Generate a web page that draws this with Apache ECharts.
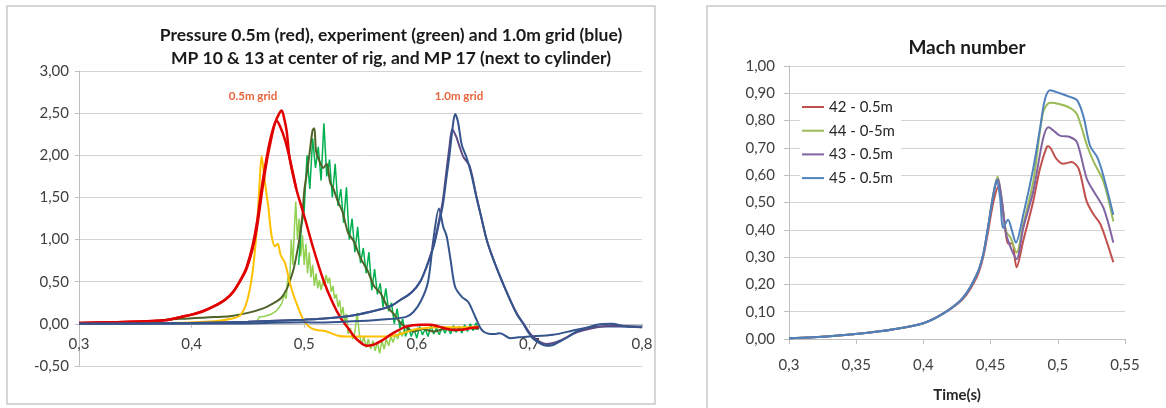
<!DOCTYPE html>
<html>
<head>
<meta charset="utf-8">
<title>Pressure / Mach number</title>
<script src="https://cdn.jsdelivr.net/npm/echarts@6/dist/echarts.min.js"></script>
<style>
  html, body { margin: 0; padding: 0; background: #fff; }
  #chart { width: 1166px; height: 408px; }
</style>
</head>
<body>
<div id="chart"></div>
<script>
  // ---- left panel: pressure [time, value] ----
  const pressRedA = [[0.30,0.01],[0.33,0.02],[0.36,0.03],[0.38,0.05],[0.39,0.08],[0.40,0.11],[0.41,0.15],[0.42,0.21],
    [0.43,0.29],[0.437,0.38],[0.445,0.55],[0.449,0.66],[0.454,0.88],[0.458,1.14],[0.463,1.61],[0.467,1.95],[0.47,2.15],
    [0.474,2.38],[0.478,2.5],[0.480,2.53],[0.4825,2.42],[0.4845,2.28],[0.487,1.97],[0.493,1.6],[0.5,1.28],[0.508,0.9],
    [0.517,0.52],[0.525,0.26],[0.532,0.08],[0.54,-0.07],[0.545,-0.16],[0.55,-0.22],[0.555,-0.26],[0.561,-0.25],
    [0.57,-0.19],[0.579,-0.11],[0.591,-0.03],[0.603,-0.01],[0.612,-0.01],[0.619,-0.03],[0.632,-0.07],[0.64,-0.07],
    [0.648,-0.05],[0.655,-0.04]];
  const pressRedB = [[0.30,0.01],[0.33,0.02],[0.36,0.03],[0.38,0.05],[0.39,0.08],[0.40,0.11],[0.41,0.15],[0.42,0.21],
    [0.43,0.29],[0.437,0.38],[0.445,0.56],[0.449,0.68],[0.454,0.92],[0.458,1.2],[0.463,1.68],[0.468,2.07],[0.472,2.3],
    [0.4755,2.41],[0.479,2.33],[0.483,2.18],[0.487,1.97],[0.493,1.6]];
  const pressYellow = [[0.30,0.0],[0.38,0.01],[0.42,0.03],[0.435,0.06],[0.443,0.1],[0.449,0.26],[0.454,0.6],[0.458,1.14],
    [0.4605,1.7],[0.4622,1.99],[0.465,1.69],[0.468,1.4],[0.471,1.05],[0.474,0.92],[0.4765,0.95],[0.479,0.82],[0.483,0.72],
    [0.487,0.5],[0.49,0.36],[0.495,0.18],[0.5,0.03],[0.505,-0.04],[0.51,-0.07],[0.515,-0.08],[0.52,-0.09],[0.53,-0.14],
    [0.54,-0.15],[0.56,-0.15],[0.58,-0.14],[0.59,-0.1],[0.6,-0.06],[0.62,-0.04],[0.64,-0.04],[0.655,-0.03]];
  const pressExpLight = [[0.30,0.0],[0.40,0.01],[0.455,0.02],[0.458,0.03],[0.46,0.08],[0.465,0.09],[0.47,0.11],[0.475,0.15],
    [0.478,0.2],[0.48,0.24],[0.4825,0.35],[0.484,0.3],[0.4855,0.55],[0.487,0.45],[0.4885,1.0],[0.49,0.7],[0.4915,1.2],
    [0.4925,1.45],[0.494,1.0],[0.4955,1.25],[0.497,0.8],[0.4985,1.05],[0.5,0.7],[0.5015,0.95],[0.503,0.6],[0.5045,0.85],
    [0.506,0.55],[0.5075,0.7],[0.509,0.45],[0.5105,0.6],[0.512,0.42],[0.5135,0.52],[0.515,0.4],[0.5165,0.5],[0.518,0.45],
    [0.5195,0.58],[0.521,0.48],[0.5225,0.55],[0.524,0.38],[0.5255,0.45],[0.527,0.3],[0.5285,0.35],[0.53,0.2],[0.5315,0.28],
    [0.533,0.1],[0.5345,0.2],[0.536,0.0],[0.5375,0.12],[0.539,-0.12],[0.541,-0.05],[0.543,-0.18],[0.545,-0.1],[0.547,0.13],
    [0.549,-0.12],[0.551,-0.25],[0.553,-0.15],[0.555,-0.28],[0.557,-0.18],[0.559,-0.3],[0.561,-0.2],[0.563,-0.32],
    [0.565,-0.22],[0.567,-0.35],[0.569,-0.2],[0.571,-0.3],[0.573,-0.18],[0.575,-0.26],[0.577,-0.15],[0.579,-0.22],
    [0.581,-0.12],[0.583,-0.18],[0.585,-0.08],[0.587,-0.15],[0.589,-0.06],[0.591,-0.12],[0.593,-0.05],[0.595,-0.1]];
  const pressExpDark = [[0.495,0.7],[0.4975,1.15],[0.5,1.35],[0.5025,2.0],[0.505,1.6],[0.5075,2.2],[0.51,1.85],[0.5125,2.1],
    [0.515,1.7],[0.5175,2.38],[0.52,1.75],[0.5225,1.95],[0.525,1.5],[0.5275,1.9],[0.53,1.4],[0.5325,1.6],[0.535,1.2],
    [0.5375,1.62],[0.54,1.0],[0.5425,1.25],[0.545,0.85],[0.5475,1.15],[0.55,0.72],[0.5525,0.9],[0.555,0.6],[0.5575,0.85],
    [0.56,0.4],[0.5625,0.65],[0.565,0.35],[0.5675,0.48],[0.57,0.2],[0.5725,0.42],[0.575,0.15],[0.5775,0.25],[0.58,0.0],
    [0.5825,0.18],[0.585,-0.05],[0.5875,0.06],[0.59,-0.15],[0.5925,-0.02],[0.595,-0.15],[0.5975,-0.06],[0.6,-0.17],
    [0.6025,-0.03],[0.605,-0.13],[0.6075,-0.06],[0.61,-0.15],[0.6125,-0.02],[0.615,-0.12],[0.6175,-0.05],[0.62,-0.13],
    [0.6225,-0.03],[0.625,-0.11],[0.6275,-0.04],[0.63,-0.12],[0.6325,-0.02],[0.635,-0.1],[0.6375,-0.03],[0.64,-0.11],
    [0.6425,-0.01],[0.645,-0.09],[0.6475,0.0],[0.65,-0.08],[0.6525,0.01],[0.655,-0.06]];
  const pressExpMean = [[0.30,0.0],[0.35,0.02],[0.39,0.06],[0.42,0.08],[0.434,0.09],[0.45,0.13],[0.463,0.18],[0.472,0.24],
    [0.479,0.3],[0.484,0.4],[0.487,0.5],[0.49,0.62],[0.493,0.8],[0.496,1.03],[0.4985,1.3],[0.5,1.57],[0.503,1.85],
    [0.505,2.05],[0.5075,2.3],[0.509,2.32],[0.5105,2.05],[0.513,1.95],[0.517,1.85],[0.52,1.9],[0.523,1.68],[0.526,1.6],
    [0.53,1.45],[0.534,1.33],[0.539,1.08],[0.544,0.98],[0.55,0.78],[0.556,0.64],[0.562,0.45],[0.568,0.36],[0.574,0.2],
    [0.58,0.11],[0.585,0.02],[0.59,-0.04],[0.597,-0.09],[0.605,-0.06],[0.615,-0.09],[0.625,-0.06],[0.635,-0.08],
    [0.645,-0.05],[0.655,-0.06]];
  const pressBlueWide = [[0.30,0.0],[0.40,0.01],[0.45,0.025],[0.5,0.05],[0.514,0.06],[0.543,0.1],[0.567,0.17],[0.578,0.22],
    [0.585,0.28],[0.595,0.37],[0.603,0.5],[0.61,0.72],[0.615,0.92],[0.619,1.15],[0.623,1.4],[0.626,1.7],[0.629,2.0],
    [0.632,2.35],[0.634,2.49],[0.6365,2.4],[0.64,2.12],[0.644,1.98],[0.648,1.8],[0.653,1.5],[0.657,1.28],
    [0.662,1.0],[0.667,0.8],[0.674,0.56],[0.683,0.28],[0.689,0.11],[0.695,-0.01],[0.699,-0.1],
    [0.703,-0.17],[0.709,-0.23],[0.715,-0.26],[0.721,-0.25],[0.727,-0.21],[0.735,-0.15],[0.742,-0.09],[0.75,-0.05],
    [0.76,-0.01],[0.773,0.0],[0.787,-0.03],[0.8,-0.03]];
  const pressPurple = [[0.30,0.0],[0.40,0.01],[0.45,0.025],[0.5,0.05],[0.514,0.06],[0.543,0.1],[0.567,0.17],[0.578,0.22],
    [0.585,0.28],[0.595,0.37],[0.603,0.5],[0.61,0.73],[0.615,0.94],[0.619,1.18],[0.623,1.45],[0.626,1.78],[0.629,2.1],
    [0.6315,2.31],[0.635,2.22],[0.638,2.1],[0.6414,1.98],[0.647,1.87],[0.653,1.51],[0.657,1.28],
    [0.662,1.0],[0.667,0.8],[0.674,0.56],[0.683,0.28],[0.689,0.12],[0.695,0.0],[0.703,-0.15],
    [0.715,-0.24],[0.727,-0.2],[0.742,-0.1],[0.76,-0.04],[0.775,-0.02],[0.8,-0.04]];
  const pressBlueNarrow = [[0.30,0.0],[0.45,0.005],[0.5,0.02],[0.514,0.015],[0.543,0.03],[0.567,0.05],[0.59,0.08],
    [0.597,0.14],[0.604,0.28],[0.61,0.5],[0.6147,1.0],[0.6197,1.37],[0.6235,1.15],[0.6265,1.04],[0.63,0.76],[0.634,0.44],
    [0.64,0.32],[0.6457,0.26],[0.6517,0.09],[0.6576,-0.07],[0.665,-0.12],
    [0.67,-0.12],[0.674,-0.11],[0.683,-0.17],[0.69,-0.16],[0.7,-0.15],[0.721,-0.13],[0.742,-0.07],[0.76,-0.03],
    [0.78,-0.03],[0.8,-0.04]];

  // ---- right panel: Mach number [time, value] ----
  const machNames = ['42 - 0.5m', '44 - 0-5m', '43 - 0.5m', '45 - 0.5m'];
  const mach42 = [[0.30,0.003],[0.33,0.01],[0.3675,0.028],[0.40,0.058],[0.417,0.1],[0.43,0.15],[0.44,0.23],[0.4445,0.3],
    [0.448,0.39],[0.452,0.5],[0.456,0.56],[0.4585,0.5],[0.461,0.4],[0.463,0.35],[0.466,0.35],[0.4693,0.263],[0.4743,0.36],
    [0.4817,0.504],[0.4867,0.624],[0.4917,0.703],[0.493,0.706],[0.499,0.66],[0.504,0.642],[0.5103,0.648],[0.5155,0.624],
    [0.5215,0.504],[0.5268,0.455],[0.5318,0.42],[0.5413,0.281]];
  const mach44 = [[0.30,0.003],[0.33,0.01],[0.3675,0.028],[0.40,0.058],[0.417,0.1],[0.43,0.154],[0.44,0.239],[0.4445,0.31],
    [0.448,0.407],[0.452,0.53],[0.4552,0.594],[0.458,0.52],[0.4615,0.395],[0.465,0.37],[0.4693,0.317],[0.4743,0.42],
    [0.4817,0.576],[0.489,0.829],[0.4942,0.865],[0.5016,0.86],[0.509,0.847],[0.5143,0.823],[0.5218,0.708],[0.5268,0.648],
    [0.534,0.576],[0.5413,0.431]];
  const mach43 = [[0.30,0.003],[0.33,0.01],[0.3675,0.028],[0.40,0.058],[0.417,0.1],[0.43,0.154],[0.44,0.239],[0.4445,0.31],
    [0.448,0.407],[0.452,0.527],[0.4555,0.585],[0.4585,0.5],[0.461,0.4],[0.463,0.36],[0.4693,0.293],[0.4743,0.407],
    [0.4817,0.54],[0.489,0.733],[0.493,0.776],[0.5016,0.745],[0.509,0.74],[0.5143,0.72],[0.5215,0.588],[0.5268,0.54],
    [0.534,0.48],[0.5413,0.353]];
  const mach45 = [[0.30,0.003],[0.33,0.01],[0.3675,0.028],[0.40,0.058],[0.417,0.1],[0.43,0.154],[0.44,0.239],[0.4445,0.31],
    [0.448,0.407],[0.452,0.527],[0.4545,0.582],[0.457,0.52],[0.4594,0.407],[0.463,0.437],[0.4657,0.4],[0.4688,0.353],
    [0.4743,0.455],[0.4817,0.624],[0.4867,0.769],[0.4904,0.877],[0.4942,0.911],[0.5016,0.9],[0.509,0.887],[0.5143,0.875],
    [0.519,0.817],[0.524,0.708],[0.5293,0.666],[0.5338,0.6],[0.5413,0.455]];

  const FONT = 'Lato';
  const comma = (v, d) => v.toFixed(d).replace('.', ',');

  const chart = echarts.init(document.getElementById('chart'));

  function line(name, data, color, width, smooth, xi) {
    return {
      name: name, type: 'line', data: data,
      xAxisIndex: xi, yAxisIndex: xi,
      showSymbol: false, smooth: smooth, animation: false,
      lineStyle: { color: color, width: width },
      itemStyle: { color: color }
    };
  }

  const axisText = { fontFamily: FONT, fontSize: 15, color: '#404040' };

  chart.setOption({
    backgroundColor: '#fff',
    textStyle: { fontFamily: FONT },
    title: [
      {
        text: 'Pressure 0.5m (red), experiment (green) and 1.0m grid (blue)\nMP 10 & 13 at center of rig, and MP 17 (next to cylinder)',
        left: 386, top: 19, textAlign: 'center',
        textStyle: { fontFamily: FONT, fontSize: 17.5, fontWeight: 'bold', color: '#1a1a1a', lineHeight: 23 }
      },
      {
        text: 'Mach number', left: 962, top: 33, textAlign: 'center',
        textStyle: { fontFamily: FONT, fontSize: 19, fontWeight: 'bold', color: '#1a1a1a' }
      }
    ],
    legend: {
      data: machNames, orient: 'vertical', left: 800, top: 97,
      icon: 'rect', itemWidth: 22, itemHeight: 2, itemGap: 7.7,
      backgroundColor: '#fff', padding: [2, 6, 2, 2],
      textStyle: { fontFamily: FONT, fontSize: 15, color: '#262626', lineHeight: 16 }
    },
    grid: [
      { left: 79, right: 524, top: 71, bottom: 42 },
      { left: 789, right: 41, top: 66, bottom: 65.3 }
    ],
    xAxis: [
      {
        // axis sits on the zero line (0 is 42px above the bottom of the plot)
        gridIndex: 0, type: 'value', min: 0.3, max: 0.8, interval: 0.1,
        offset: -42.2,
        axisLine: { onZero: false, lineStyle: { color: '#bfbfbf' } },
        axisTick: { length: 4, lineStyle: { color: '#bfbfbf' } },
        axisLabel: Object.assign({ margin: 13, formatter: v => comma(v, 1) }, axisText),
        splitLine: { show: false }
      },
      {
        gridIndex: 1, type: 'value', min: 0.3, max: 0.55, interval: 0.05,
        axisLine: { lineStyle: { color: '#bfbfbf' } },
        axisTick: { length: 5, lineStyle: { color: '#bfbfbf' } },
        axisLabel: Object.assign({ margin: 19, formatter: v => String(parseFloat(v.toFixed(2))).replace('.', ',') }, axisText),
        splitLine: { show: false },
        name: 'Time(s)', nameLocation: 'middle', nameGap: 49,
        nameTextStyle: { fontFamily: FONT, fontSize: 15, fontWeight: 'bold', color: '#262626' }
      }
    ],
    yAxis: [
      {
        gridIndex: 0, type: 'value', min: -0.5, max: 3, interval: 0.5,
        axisLine: { show: true, lineStyle: { color: '#bfbfbf' } },
        axisTick: { show: true, length: 4, lineStyle: { color: '#bfbfbf' } },
        axisLabel: Object.assign({ margin: 10, formatter: v => comma(v, 2) }, axisText),
        splitLine: { lineStyle: { color: '#d4d4d4' } }
      },
      {
        gridIndex: 1, type: 'value', min: 0, max: 1, interval: 0.1,
        axisLine: { show: true, lineStyle: { color: '#bfbfbf' } },
        axisTick: { show: true, length: 5, lineStyle: { color: '#bfbfbf' } },
        axisLabel: Object.assign({ margin: 14, formatter: v => comma(v, 2) }, axisText),
        splitLine: { lineStyle: { color: '#d4d4d4' } }
      }
    ],
    graphic: [
      // panel frames
      { type: 'rect', shape: { x: 7, y: 6, width: 648, height: 398 }, style: { fill: 'none', stroke: '#c8c8c8', lineWidth: 1.5 }, z: 0 },
      { type: 'rect', shape: { x: 707, y: 6, width: 480, height: 420 }, style: { fill: 'none', stroke: '#c8c8c8', lineWidth: 1.5 }, z: 0 },
      { type: 'text', x: 253, y: 96, style: { text: '0.5m grid', fill: '#e8643c', font: 'bold 11.5px Lato', textAlign: 'center', textVerticalAlign: 'middle' } },
      { type: 'text', x: 459, y: 96, style: { text: '1.0m grid', fill: '#e8643c', font: 'bold 11.5px Lato', textAlign: 'center', textVerticalAlign: 'middle' } }
    ],
    series: [
      line('exp MP light', pressExpLight, '#92d050', 1.5, false, 0),
      line('exp MP dark', pressExpDark, '#00b050', 1.5, false, 0),
      line('exp mean', pressExpMean, '#4f6228', 2, 0.3, 0),
      line('0.5m MP 17', pressYellow, '#ffc000', 2, 0.3, 0),
      line('0.5m MP 10', pressRedA, '#e00000', 2.5, 0.3, 0),
      line('0.5m MP 13', pressRedB, '#e00000', 2.5, 0.3, 0),
      line('1.0m MP 17', pressBlueNarrow, '#34548c', 2, 0.3, 0),
      line('1.0m MP 13', pressPurple, '#5e4a84', 2, 0.3, 0),
      line('1.0m MP 10', pressBlueWide, '#34548c', 2, 0.3, 0),
      line(machNames[0], mach42, '#c0504d', 2, 0.3, 1),
      line(machNames[1], mach44, '#9bbb59', 2, 0.3, 1),
      line(machNames[2], mach43, '#8064a2', 2, 0.3, 1),
      line(machNames[3], mach45, '#4f81bd', 2, 0.3, 1)
    ]
  });
</script>
</body>
</html>
